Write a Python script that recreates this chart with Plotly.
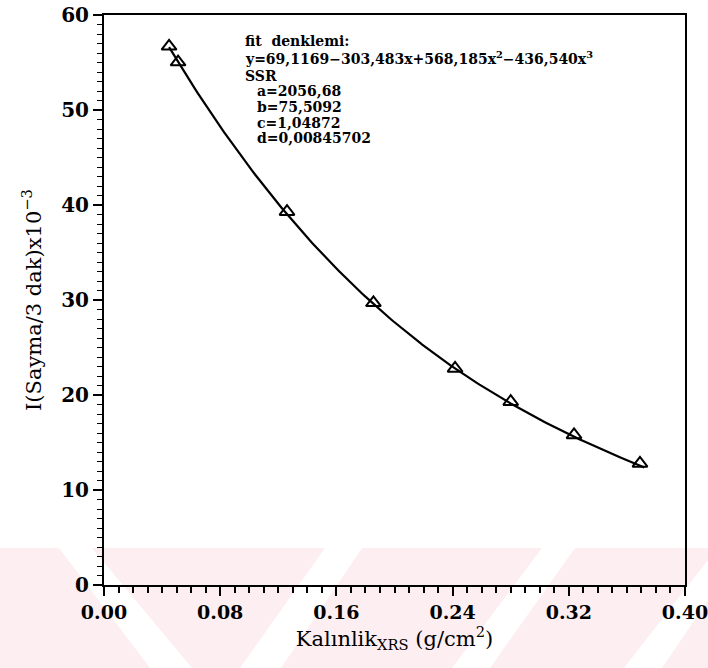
import numpy as np
import plotly.graph_objects as go

# ---- data ----
thickness = [0.0448, 0.0510, 0.1260, 0.1855, 0.2417, 0.2800, 0.3236, 0.3690]
intensity = [56.7, 55.05, 39.3, 29.7, 22.8, 19.3, 15.8, 12.8]
fit_coeffs = [69.1169, -303.483, 568.185, -436.540]   # c0 + c1 x + c2 x^2 + c3 x^3
fit_range = [0.0448, 0.372]

eq_lines = [
    "fit  denklemi:",
    "y=69,1169\u2212303,483x+568,185x<sup>2</sup>\u2212436,540x<sup>3</sup>",
    "SSR",
    "  a=2056,68",
    "  b=75,5092",
    "  c=1,04872",
    "  d=0,00845702",
]

W, H = 708, 668
L, R, T, B = 104, 685, 15, 585

def px2paper(px, py):
    return (px - L) / (R - L), (B - py) / (B - T)

xf = np.linspace(fit_range[0], fit_range[1], 200)
yf = sum(c * xf ** i for i, c in enumerate(fit_coeffs))

fig = go.Figure()
fig.add_trace(go.Scatter(x=xf, y=yf, mode="lines",
                         line=dict(color="black", width=2.2), showlegend=False))
fig.add_trace(go.Scatter(x=thickness, y=intensity, mode="markers",
                         marker=dict(symbol="triangle-up-open", size=13, color="black",
                                     line=dict(width=2, color="black")),
                         showlegend=False))

# watermark (faint pink band with white diagonal stripes)
shapes = []
def poly(pts, color):
    pp = [px2paper(x, y) for x, y in pts]
    path = "M " + " L ".join(f"{a:.4f},{b:.4f}" for a, b in pp) + " Z"
    shapes.append(dict(type="path", xref="paper", yref="paper", path=path,
                       fillcolor=color, line=dict(width=0), layer="below"))

pink = "#fdeef1"
poly([(0, 548), (708, 548), (708, 668), (0, 668)], pink)
poly([(59, 548), (92, 548), (192, 668), (150, 668)], "white")
poly([(325, 548), (362, 548), (281, 668), (240, 668)], "white")
poly([(542, 548), (575, 548), (490, 668), (452, 668)], "white")
poly([(708, 560), (708, 600), (662, 668), (624, 668)], "white")

annotations = []
ys = [41, 58, 76, 91.5, 107, 122.5, 138]
for txt, yy in zip(eq_lines, ys):
    ax, ay = px2paper(243 if not txt.startswith("  ") else 255, yy)
    annotations.append(dict(text=txt.strip(), x=ax, y=ay, xref="paper", yref="paper",
                            xanchor="left", yanchor="middle", showarrow=False,
                            font=dict(family="DejaVu Serif", size=14, color="black",
                                      weight="bold")))

fig.update_layout(
    width=W, height=H,
    margin=dict(l=L, r=W - R, t=T, b=H - B, autoexpand=False),
    paper_bgcolor="white", plot_bgcolor="rgba(0,0,0,0)",
    shapes=shapes, annotations=annotations,
    font=dict(family="DejaVu Serif", color="black"),
    xaxis=dict(range=[0, 0.40], tickvals=[0, 0.08, 0.16, 0.24, 0.32, 0.40],
               ticktext=["0.00", "0.08", "0.16", "0.24", "0.32", "0.40"],
               ticks="outside", ticklen=9, tickwidth=1.5, tickcolor="black",
               minor=dict(dtick=0.01, ticks="outside", ticklen=6, tickwidth=1.5, tickcolor="black"),
               showline=True, linecolor="black", linewidth=2, mirror=True,
               showgrid=False, zeroline=False, automargin=False,
               ticklabeloverflow="allow",
               tickfont=dict(family="DejaVu Serif", size=19, weight="bold"),
               title=dict(text="Kalınlik<sub>XRS</sub> (g/cm<sup>2</sup>)",
                          font=dict(family="DejaVu Serif", size=21), standoff=4)),
    yaxis=dict(range=[0, 60], dtick=10,
               ticks="outside", ticklen=9, tickwidth=1.5, tickcolor="black",
               minor=dict(dtick=1, ticks="outside", ticklen=5, tickwidth=1.2, tickcolor="black"),
               showline=True, linecolor="black", linewidth=2, mirror=True,
               showgrid=False, zeroline=False, automargin=False,
               ticklabeloverflow="allow",
               tickfont=dict(family="DejaVu Serif", size=20, weight="bold"),
               title=dict(text="I(Sayma/3 dak)x10<sup>\u22123</sup>",
                          font=dict(family="DejaVu Serif", size=21), standoff=14)),
)

fig.write_html("out.html")
